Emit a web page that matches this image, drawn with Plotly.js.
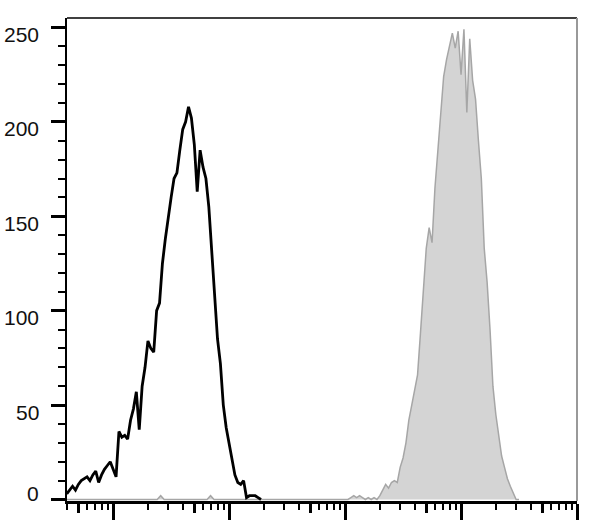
<!DOCTYPE html>
<html><head><meta charset="utf-8">
<script src="https://cdn.plot.ly/plotly-3.0.1.min.js"></script>
<style>html,body{margin:0;padding:0;background:#fff}#chart{width:590px;height:529px}</style>
</head><body><div id="chart"></div>
<script>
// Unstained / control histogram (black outline): log10 channel position and counts
const blackExp = [1.600,1.625,1.650,1.675,1.700,1.725,1.750,1.775,1.800,1.825,
  1.850,1.875,1.900,1.925,1.950,1.975,2.000,2.025,2.050,2.075,
  2.100,2.125,2.150,2.175,2.200,2.225,2.250,2.275,2.300,2.325,
  2.350,2.375,2.400,2.425,2.450,2.475,2.500,2.525,2.550,2.575,
  2.600,2.625,2.650,2.675,2.700,2.725,2.750,2.775,2.800,2.825,
  2.850,2.875,2.900,2.925,2.950,2.975,3.000,3.025,3.050,3.075,
  3.100,3.125,3.150,3.175,3.200,3.225,3.250,3.275];
const blackCounts = [3,5,7,5,8,10,11,12,10,13,
  15,9,13,16,18,20,16,12,36,33,
  34,32,42,48,57,37,60,70,84,80,
  78,100,104,125,138,150,160,170,173,185,
  196,200,208,202,188,163,185,176,170,155,
  132,110,85,72,50,38,30,20,13,9,
  8,10,1,2,2,2,1,0];

// Stained histogram (gray filled): log10 channel position and counts
const grayExp = [1.60,2.38,2.41,2.44,2.81,2.84,2.87,3.95,
  4.000,4.025,4.050,4.075,4.100,4.125,4.150,4.175,4.200,4.225,
  4.250,4.275,4.300,4.325,4.350,4.375,4.400,4.425,4.450,4.475,
  4.500,4.525,4.550,4.575,4.600,4.625,4.650,4.675,4.700,4.725,
  4.750,4.775,4.800,4.825,4.850,4.875,4.900,4.925,4.950,4.975,
  5.000,5.025,5.050,5.075,5.100,5.125,5.150,5.175,5.200,5.225,
  5.250,5.275,5.300,5.325,5.350,5.375,5.400,5.425,5.450,5.475,
  5.500];
const grayCounts = [0,0,2,0,0,2,0,0,
  0,0,1,2,1,2,1,0,1,0,
  1,0,2,5,8,6,9,10,9,17,
  22,30,42,50,58,66,88,112,133,144,
  136,165,184,205,224,233,240,247,239,248,
  225,249,205,244,222,212,190,170,133,115,
  90,60,45,33,23,17,11,7,3,0,
  0];

const yTickVals = [0,50,100,150,200,250];
const yTickLabels = ['0','50','100','150','200','250'];
const xMajorTicks = [1e2,1e3,1e4,1e5,1e6];
const xMidTicks = [50,500,5000,50000,500000];

const toLin = a => a.map(e => Math.pow(10, e));
const xMinorTicks = [];
for (let d = 1; d <= 5; d++) {
  for (let k = 2; k <= 9; k++) {
    const v = k * Math.pow(10, d);
    if (v >= 40) xMinorTicks.push(v);
  }
}
const xRange = [Math.log10(40), 6];
const labelFont = {family: 'Liberation Sans, Arial, sans-serif', size: 21, color: '#111'};

const traces = [
  {
    type: 'scatter', mode: 'lines', xaxis: 'x', yaxis: 'y',
    x: toLin(grayExp), y: grayCounts,
    fill: 'tozeroy', fillcolor: '#d4d4d4',
    line: {color: '#a6a6a6', width: 1.5},
    hoverinfo: 'skip', showlegend: false
  },
  {
    type: 'scatter', mode: 'lines', xaxis: 'x2', yaxis: 'y',
    x: toLin(blackExp), y: blackCounts,
    line: {color: '#000', width: 2.8},
    hoverinfo: 'skip', showlegend: false
  }
];

const layout = {
  width: 590, height: 529,
  margin: {l: 67, r: 13, t: 18, b: 28},
  paper_bgcolor: '#fff', plot_bgcolor: '#fff',
  showlegend: false,
  xaxis: {
    type: 'log', range: xRange,
    tickmode: 'array', tickvals: xMajorTicks, showticklabels: false,
    ticks: 'outside', ticklen: 16, tickwidth: 3, tickcolor: '#000',
    showline: true, linecolor: '#000', linewidth: 3,
    showgrid: false, zeroline: false,
    minor: {tickmode: 'array', tickvals: xMinorTicks, ticks: 'outside',
            ticklen: 6, tickwidth: 2, tickcolor: '#000', showgrid: false}
  },
  xaxis2: {
    type: 'log', range: xRange, overlaying: 'x', anchor: 'y', side: 'bottom',
    tickmode: 'array', tickvals: xMidTicks, showticklabels: false,
    ticks: 'outside', ticklen: 11, tickwidth: 3, tickcolor: '#000',
    showline: false, showgrid: false, zeroline: false
  },
  yaxis: {
    range: [-0.8, 255],
    tickmode: 'array', tickvals: yTickVals, showticklabels: false,
    ticks: 'outside', ticklen: 14, tickwidth: 3, tickcolor: '#000',
    showline: true, linecolor: '#000', linewidth: 2,
    showgrid: false, zeroline: false,
    minor: {tickmode: 'linear', tick0: 0, dtick: 10, ticks: 'outside',
            ticklen: 7, tickwidth: 2, tickcolor: '#000', showgrid: false}
  },
  annotations: yTickVals.map((v, i) => ({
    xref: 'paper', x: 0, xanchor: 'right', xshift: -26,
    yref: 'y', y: v, yanchor: 'middle', yshift: v === 0 ? 6 : -7,
    text: yTickLabels[i], showarrow: false, font: labelFont
  })),
  shapes: [
    {type: 'line', xref: 'paper', yref: 'paper', x0: 0, x1: 1, y0: 1, y1: 1,
     line: {color: '#000', width: 1.5}},
    {type: 'line', xref: 'paper', yref: 'paper', x0: 1, x1: 1, y0: 0, y1: 1,
     line: {color: '#999', width: 2}}
  ]
};

Plotly.newPlot('chart', traces, layout, {staticPlot: true, displayModeBar: false});
</script>
</body></html>
